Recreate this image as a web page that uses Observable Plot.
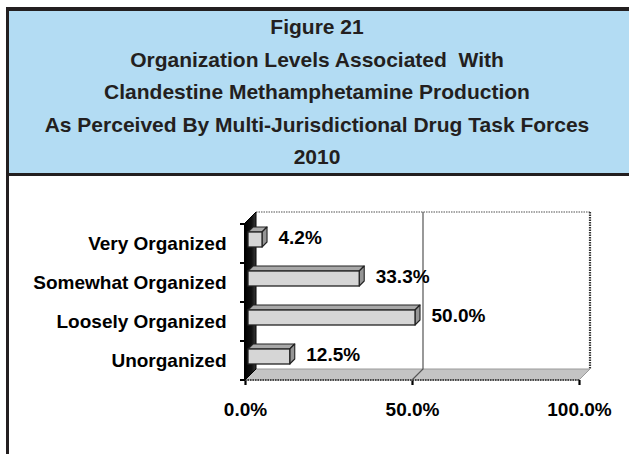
<!DOCTYPE html>
<html>
<head>
<meta charset="utf-8">
<script src="https://cdn.jsdelivr.net/npm/d3@7"></script>
<script src="https://cdn.jsdelivr.net/npm/@observablehq/plot@0.6"></script>
<style>
html, body { margin: 0; padding: 0; background: #fff; }
#wrap { position: relative; width: 629px; height: 454px; overflow: hidden; font-family: "Liberation Sans", Arial, sans-serif; }
#header { position: absolute; left: 6px; top: 7px; width: 623px; height: 162px; background: #b3dcf3;
  border-top: 4px solid #231f20; border-left: 3px solid #231f20; border-bottom: 3px solid #231f20; }
#title { position: absolute; left: 0; top: 0; width: 616px; text-align: center; color: #231f20; font-weight: bold; font-size: 21px; }
#title div { height: 32.5px; line-height: 32.5px; white-space: nowrap; }
#leftborder { position: absolute; left: 6px; top: 176px; width: 3px; height: 278px; background: #231f20; }
#chart { position: absolute; left: 0; top: 176px; }
</style>
</head>
<body>
<div id="wrap">
  <div id="header"><div id="title"></div></div>
  <div id="leftborder"></div>
  <div id="chart"></div>
</div>
<script>
const titleLines = [
  "Figure 21",
  "Organization Levels Associated\u00a0 With",
  "Clandestine Methamphetamine Production",
  "As Perceived By Multi-Jurisdictional Drug Task Forces",
  "2010"
];
const categories = ["Very Organized", "Somewhat Organized", "Loosely Organized", "Unorganized"];
const values = [4.2, 33.3, 50.0, 12.5];
const xTicks = [0, 50, 100];

const titleEl = document.getElementById("title");
for (const t of titleLines) {
  const d = document.createElement("div");
  d.textContent = t;
  titleEl.appendChild(d);
}

const data = categories.map((c, i) => ({category: c, value: values[i]}));
const DEPTH = 11;      // wall depth
const BDEPTH = 5;      // bar depth
const BOFF = 3;        // bar offset into the box
const BH = 15;         // bar front height

function bandInfo(scales, dimensions) {
  const y = scales.y;
  const bw = (y.bandwidth ? y.bandwidth() : (dimensions.height - dimensions.marginTop - dimensions.marginBottom) / categories.length);
  return {y, bw};
}

function frame3d(index, scales, values_, dimensions) {
  const x = scales.x;
  const {y, bw} = bandInfo(scales, dimensions);
  const top = dimensions.marginTop;
  const bot = dimensions.height - dimensions.marginBottom;
  const x0 = x(xTicks[0]), xm = x(xTicks[1]), x1 = x(xTicks[2]);
  const D = DEPTH;
  const g = d3.create("svg:g");
  // back wall
  g.append("rect").attr("x", x0 + D).attr("y", top - D).attr("width", x1 - x0).attr("height", bot - top).attr("fill", "#fff");
  g.append("line").attr("x1", x0 + D).attr("x2", x1 + D).attr("y1", top - D).attr("y2", top - D)
    .attr("stroke", "#8a8a8a").attr("stroke-width", 1.5).attr("stroke-dasharray", "1.5,1");
  g.append("line").attr("x1", x1 + D).attr("x2", x1 + D).attr("y1", top - D).attr("y2", bot - D)
    .attr("stroke", "#333").attr("stroke-width", 2.2).attr("stroke-dasharray", "1.5,1");
  // floor
  g.append("path").attr("d", `M${x0},${bot}L${x0 + D},${bot - D}L${x1 + D},${bot - D}L${x1},${bot}Z`)
    .attr("fill", "#c4c4c4").attr("stroke", "#9a9a9a").attr("stroke-width", 1);
  g.append("line").attr("x1", x0).attr("x2", x1).attr("y1", bot).attr("y2", bot)
    .attr("stroke", "#222").attr("stroke-width", 1.6).attr("stroke-dasharray", "1.5,1");
  // gridline at 50%
  g.append("path").attr("d", `M${xm + D},${top - D}L${xm + D},${bot - D}L${xm},${bot}`)
    .attr("fill", "none").attr("stroke", "#555").attr("stroke-width", 1.2);
  // left wall
  const grad = g.append("defs").append("linearGradient").attr("id", "wallgrad").attr("x1", "0").attr("x2", "1").attr("y1", "0").attr("y2", "0");
  grad.append("stop").attr("offset", "0").attr("stop-color", "#000");
  grad.append("stop").attr("offset", "0.6").attr("stop-color", "#111");
  grad.append("stop").attr("offset", "1").attr("stop-color", "#3a3a3a");
  g.append("path").attr("d", `M${x0},${top}L${x0 + D},${top - D}L${x0 + D},${bot - D}L${x0},${bot}Z`)
    .attr("fill", "url(#wallgrad)").attr("stroke", "#000").attr("stroke-width", 1);
  // left axis line and ticks at band boundaries
  g.append("line").attr("x1", x0).attr("x2", x0).attr("y1", top).attr("y2", bot).attr("stroke", "#000").attr("stroke-width", 2);
  const bounds = categories.map(c => y(c)).concat([y(categories[categories.length - 1]) + bw]);
  for (const b of bounds) {
    g.append("line").attr("x1", x0 - 5).attr("x2", x0).attr("y1", b).attr("y2", b).attr("stroke", "#000").attr("stroke-width", 2);
  }
  return g.node();
}

function bars3d(index, scales, values_, dimensions) {
  const x = scales.x;
  const {y, bw} = bandInfo(scales, dimensions);
  const x0 = x(0);
  const g = d3.create("svg:g");
  data.forEach(d => {
    const yc = y(d.category) + bw / 2 - 4;
    const xs = x0 + BOFF, xe = x(d.value) + BOFF;
    const t = yc - BH / 2, b = yc + BH / 2, k = BDEPTH;
    // top face
    g.append("path").attr("d", `M${xs},${t}L${xs + k},${t - k}L${xe + k},${t - k}L${xe},${t}Z`)
      .attr("fill", "#a8a8a8").attr("stroke", "#222").attr("stroke-width", 1.1).attr("stroke-linejoin", "round");
    // side face
    g.append("path").attr("d", `M${xe},${t}L${xe + k},${t - k}L${xe + k},${b - k}L${xe},${b}Z`)
      .attr("fill", "#959595").attr("stroke", "#222").attr("stroke-width", 1.1).attr("stroke-linejoin", "round");
    // front face
    g.append("rect").attr("x", xs).attr("y", t).attr("width", xe - xs).attr("height", BH)
      .attr("fill", "#d6d6d6").attr("stroke", "#222").attr("stroke-width", 1.3);
  });
  return g.node();
}

const chart = Plot.plot({
  width: 629,
  height: 278,
  marginLeft: 245,
  marginRight: 50,
  marginTop: 47,
  marginBottom: 74,
  style: {background: "transparent", color: "#000", fontFamily: "'Liberation Sans', Arial, sans-serif", fontSize: "19px", fontWeight: "bold", overflow: "visible"},
  x: {domain: [0, 100], ticks: xTicks, tickFormat: d => d.toFixed(1) + "%", tickSize: 5, tickPadding: 17, label: null},
  y: {type: "band", domain: categories, padding: 0, tickSize: 0, tickPadding: 19, label: null},
  marks: [
    frame3d,
    bars3d,
    Plot.text(data, {x: "value", y: "category", text: d => d.value.toFixed(1) + "%", dx: 19, dy: -6, textAnchor: "start", fill: "#000", fontSize: 19, fontWeight: "bold"})
  ]
});
document.getElementById("chart").appendChild(chart);
d3.select(chart).selectAll("g[aria-label='x-axis tick'] path, g[aria-label='x-axis'] line").attr("stroke-width", 2.2);
</script>
</body>
</html>
